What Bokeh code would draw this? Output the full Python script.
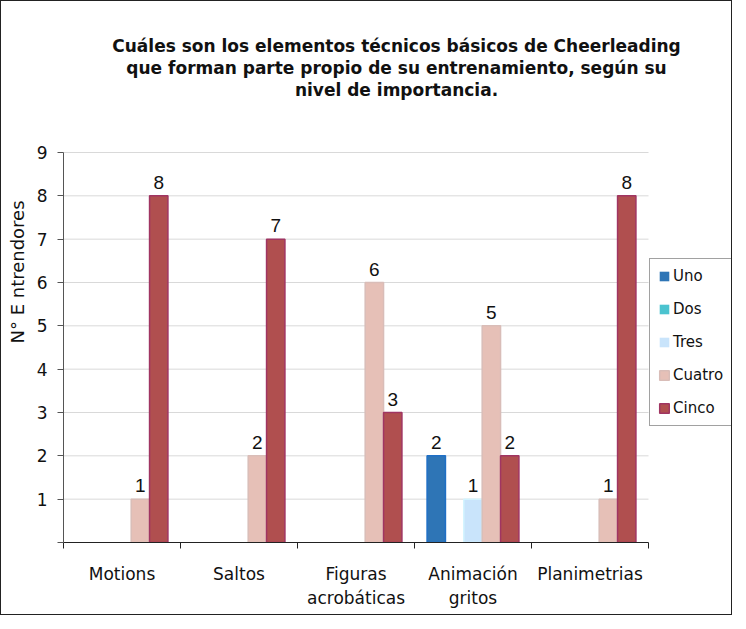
from bokeh.plotting import figure
from bokeh.models import (ColumnDataSource, FixedTicker, Legend, LegendItem, Range1d, Label)
from bokeh.embed import file_html
from bokeh.resources import INLINE

categories = ["Motions", "Saltos", "Figuras\nacrobáticas", "Animación\ngritos", "Planimetrias"]
series = ["Uno", "Dos", "Tres", "Cuatro", "Cinco"]
uno = [0, 0, 0, 2, 0]
dos = [0, 0, 0, 0, 0]
tres = [0, 0, 0, 1, 0]
cuatro = [1, 2, 6, 5, 1]
cinco = [8, 7, 3, 2, 8]
values = [uno, dos, tres, cuatro, cinco]
y_ticks = [0, 1, 2, 3, 4, 5, 6, 7, 8, 9]
fills = ["#2E75B6", "#4BC3CF", "#C9E4FB", "#E6C0B7", "#B04F4F"]
lines = ["#1F6FC5", "#4BACC6", "#D2F4FF", "#D9BDB8", "#A03562"]
title_lines = ["Cuáles son los elementos técnicos básicos de Cheerleading",
               "que forman parte propio de su entrenamiento, según su",
               "nivel de importancia."]

FONT = "DejaVu Sans"
LEFT = 62
FW, FH = 668, 541
PX_X = 117.0          # pixels per category
PX_Y = 390.0 / 9      # pixels per unit

p = figure(frame_width=FW, frame_height=FH, output_backend="svg", toolbar_location=None,
           x_range=Range1d(0, FW / PX_X), y_range=Range1d(0, FH / PX_Y),
           min_border_left=LEFT, min_border_right=0, min_border_top=0, min_border_bottom=72)
p.styles = {"border": "1px solid #222"}
p.outline_line_color = None
p.background_fill_color = "white"
p.xgrid.visible = False
p.ygrid.visible = False

n = len(categories)
# grid lines within the plot area
p.segment(x0=[0] * 9, x1=[n] * 9, y0=y_ticks[1:], y1=y_ticks[1:], line_color="#D9D9D9", line_width=1)

bw = 0.157
items = []
for j, (name, vals) in enumerate(zip(series, values)):
    xs = [i + 0.5 + (j - 2) * bw for i in range(n)]
    src = ColumnDataSource(dict(x=xs, top=vals, la=[1.0 if v > 0 else 0.0 for v in vals]))
    r = p.vbar(x="x", top="top", width=bw, bottom=0, source=src,
               fill_color=fills[j], line_color=lines[j], line_width=1.5, line_alpha="la")
    items.append(LegendItem(label=name, renderers=[r]))
    lx = [x for x, v in zip(xs, vals) if v > 0]
    lv = [v for v in vals if v > 0]
    if lx:
        tsrc = ColumnDataSource(dict(x=lx, y=lv, t=[str(v) for v in lv]))
        p.text(x="x", y="y", text="t", source=tsrc, text_align="center",
               text_baseline="bottom", y_offset=-7, text_font_size="19px",
               text_color="#111", text_font={"value": "Liberation Sans"})

# x axis
p.xaxis.bounds = (0, n)
p.xaxis.ticker = FixedTicker(ticks=[i + 0.5 for i in range(n)], minor_ticks=list(range(n + 1)))
p.xaxis.major_label_overrides = {i + 0.5: c for i, c in enumerate(categories)}
p.xaxis.major_tick_line_color = None
p.xaxis.minor_tick_line_color = "#222"
p.xaxis.minor_tick_out = 6
p.xaxis.minor_tick_in = 0
p.xaxis.axis_line_color = "#222"
p.xaxis.major_label_text_font = FONT
p.xaxis.major_label_text_font_size = "17px"
p.xaxis.major_label_text_color = "#111"
p.xaxis.major_label_standoff = 15

# y axis
p.yaxis.bounds = (0, 9)
p.yaxis.ticker = FixedTicker(ticks=y_ticks)
p.yaxis.major_label_overrides = {0: ""}
p.yaxis.major_tick_out = 6
p.yaxis.major_tick_in = 0
p.yaxis.minor_tick_line_color = None
p.yaxis.axis_line_color = "#555"
p.yaxis.major_tick_line_color = "#555"
p.yaxis.major_label_text_font = FONT
p.yaxis.major_label_text_font_size = "17px"
p.yaxis.major_label_text_color = "#111"
p.yaxis.major_label_standoff = 10
p.yaxis.axis_label = "N° E ntrendores"
p.yaxis.axis_label_text_font = FONT
p.yaxis.axis_label_text_font_size = "18px"
p.yaxis.axis_label_text_font_style = "normal"
p.yaxis.axis_label_text_color = "#111"
p.yaxis.axis_label_standoff = 6

for k, t in enumerate(title_lines):
    p.add_layout(Label(x=333, y=FH - 44 - k * 22, x_units="screen", y_units="screen", text=t,
                       text_align="center", text_baseline="middle", text_font=FONT,
                       text_font_size="17px", text_font_style="bold", text_color="#111"))

legend = Legend(items=items, location=(586, 116), border_line_color="#444",
                border_line_width=1, label_text_font=FONT, label_text_font_size="15px",
                label_text_color="#111", glyph_width=12, glyph_height=12,
                spacing=15, padding=8, margin=0, label_standoff=3, label_height=16)
p.add_layout(legend, "center")

open("out.html", "w").write(file_html(p, INLINE))
